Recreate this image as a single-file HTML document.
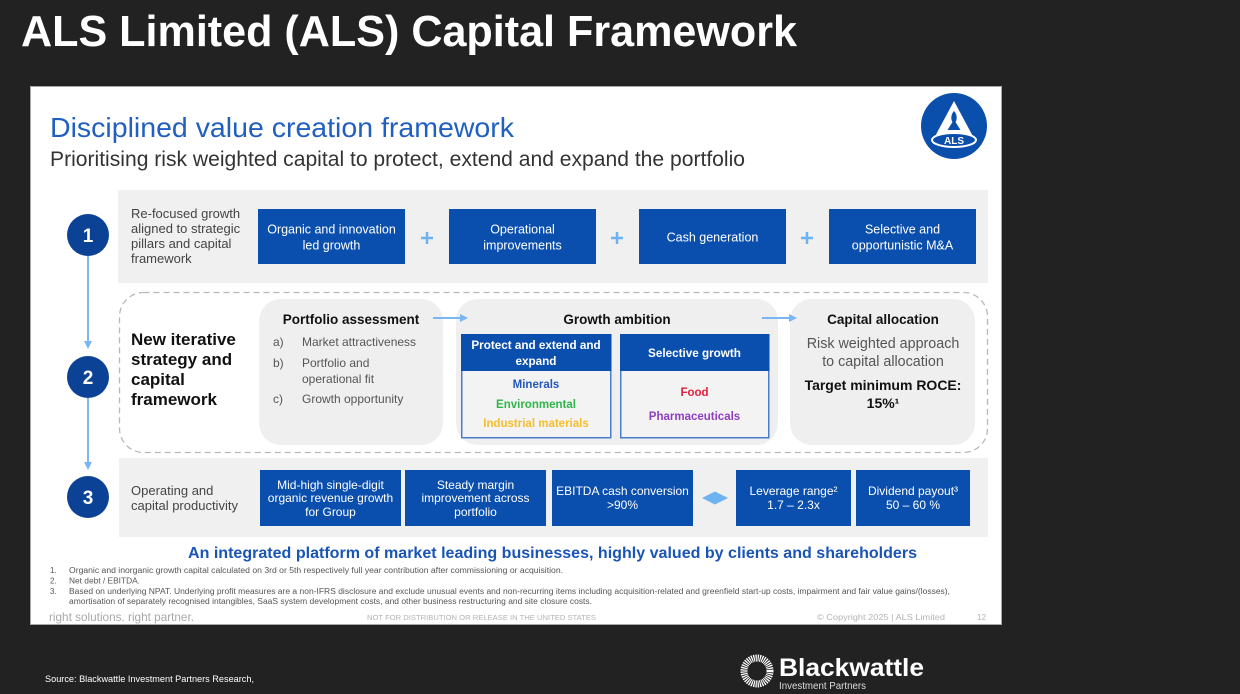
<!DOCTYPE html>
<html><head><meta charset="utf-8"><style>
html,body{margin:0;padding:0;background:#222;width:1240px;height:694px;overflow:hidden}
svg{display:block}
</style></head><body>
<svg width="1240" height="694" viewBox="0 0 1240 694" xmlns="http://www.w3.org/2000/svg" font-family="'Liberation Sans', Arial, sans-serif">
<rect width="1240" height="694" fill="#222"/>
<text x="21" y="46" font-size="44" font-weight="bold" fill="#fff" textLength="776" lengthAdjust="spacingAndGlyphs">ALS Limited (ALS) Capital Framework</text>

<!-- slide -->
<rect x="30.5" y="86.5" width="971" height="538" fill="#fff" stroke="#a8a8a8" stroke-width="1"/>
<text x="50" y="137" font-size="28" fill="#2160c0" textLength="464" lengthAdjust="spacingAndGlyphs">Disciplined value creation framework</text>
<text x="50" y="166" font-size="21" fill="#333" textLength="695" lengthAdjust="spacingAndGlyphs">Prioritising risk weighted capital to protect, extend and expand the portfolio</text>

<!-- ALS logo -->
<circle cx="954" cy="126" r="33" fill="#0b4fad"/>
<polygon points="954,101 932,142 976,142" fill="#fff"/>
<path d="M954 111 c-3 3 -3.5 8 -1.5 11 l-5 8 h13 l-5 -8 c2 -3 1.5 -8 -1.5 -11z" fill="#0b4fad"/>
<ellipse cx="954" cy="140" rx="22" ry="7" fill="#0b4fad" stroke="#fff" stroke-width="2"/>
<text x="954" y="144" font-size="10" font-weight="bold" fill="#fff" text-anchor="middle">ALS</text>

<!-- connector line -->
<line x1="88" y1="256" x2="88" y2="343" stroke="#79b6f3" stroke-width="2"/>
<polygon points="84,341 92,341 88,349" fill="#79b6f3"/>
<line x1="88" y1="398" x2="88" y2="464" stroke="#79b6f3" stroke-width="2"/>
<polygon points="84,462 92,462 88,470" fill="#79b6f3"/>

<!-- circles -->
<g fill="#0b4295">
<circle cx="88" cy="235" r="21"/>
<circle cx="88" cy="377" r="21"/>
<circle cx="88" cy="497" r="21"/>
</g>
<g fill="#fff" font-size="19" font-weight="bold" text-anchor="middle">
<text x="88" y="242">1</text>
<text x="88" y="384">2</text>
<text x="88" y="504">3</text>
</g>

<!-- Row 1 -->
<rect x="118" y="190" width="870" height="93" fill="#f0f0f0"/>
<g font-size="13" fill="#444">
<text x="131" y="218">Re-focused growth</text>
<text x="131" y="233">aligned to strategic</text>
<text x="131" y="248">pillars and capital</text>
<text x="131" y="263">framework</text>
</g>
<g fill="#0a4fad">
<rect x="258" y="209" width="147" height="55"/>
<rect x="449" y="209" width="147" height="55"/>
<rect x="639" y="209" width="147" height="55"/>
<rect x="829" y="209" width="147" height="55"/>
</g>
<g fill="#fff" font-size="12.5" text-anchor="middle">
<text x="331.5" y="233.5">Organic and innovation</text>
<text x="331.5" y="249.5">led growth</text>
<text x="522.5" y="233.5">Operational</text>
<text x="522.5" y="249.5">improvements</text>
<text x="712.5" y="241.5">Cash generation</text>
<text x="902.5" y="233.5">Selective and</text>
<text x="902.5" y="249.5">opportunistic M&amp;A</text>
</g>
<g stroke="#6db3f2" stroke-width="2.5">
<line x1="421" y1="238" x2="433" y2="238"/><line x1="427" y1="232" x2="427" y2="244"/>
<line x1="611" y1="238" x2="623" y2="238"/><line x1="617" y1="232" x2="617" y2="244"/>
<line x1="801" y1="238" x2="813" y2="238"/><line x1="807" y1="232" x2="807" y2="244"/>
</g>

<!-- Row 2 -->
<rect x="119.5" y="292.5" width="868" height="160" rx="24" fill="none" stroke="#b8b8b8" stroke-width="1.3" stroke-dasharray="6 4"/>
<g font-size="17" font-weight="bold" fill="#111">
<text x="131" y="345">New iterative</text>
<text x="131" y="365">strategy and</text>
<text x="131" y="385">capital</text>
<text x="131" y="405">framework</text>
</g>
<g fill="#efefef">
<rect x="259" y="299" width="184" height="146" rx="22"/>
<rect x="456" y="299" width="322" height="146" rx="22"/>
<rect x="790" y="299" width="185" height="146" rx="22"/>
</g>
<g font-size="13.5" font-weight="bold" fill="#111" text-anchor="middle">
<text x="351" y="324">Portfolio assessment</text>
<text x="617" y="324">Growth ambition</text>
<text x="883" y="324">Capital allocation</text>
</g>
<g font-size="12" fill="#555">
<text x="273" y="346">a)</text><text x="302" y="346">Market attractiveness</text>
<text x="273" y="367">b)</text><text x="302" y="367">Portfolio and</text>
<text x="302" y="383">operational fit</text>
<text x="273" y="403">c)</text><text x="302" y="403">Growth opportunity</text>
</g>
<!-- arrows -->
<line x1="433" y1="318" x2="462" y2="318" stroke="#79b6f3" stroke-width="2"/>
<polygon points="460,314 468,318 460,322" fill="#79b6f3"/>
<line x1="762" y1="318" x2="791" y2="318" stroke="#79b6f3" stroke-width="2"/>
<polygon points="789,314 797,318 789,322" fill="#79b6f3"/>
<!-- sub-boxes -->
<rect x="461.75" y="334.75" width="149" height="103" fill="#f3f3f3" stroke="#4a7cc9" stroke-width="1.5"/>
<rect x="461" y="334" width="150.5" height="37" fill="#0a4fad"/>
<rect x="620.75" y="334.75" width="148" height="103" fill="#f3f3f3" stroke="#4a7cc9" stroke-width="1.5"/>
<rect x="620" y="334" width="149.5" height="37" fill="#0a4fad"/>
<g font-size="11.7" font-weight="bold" fill="#fff" text-anchor="middle">
<text x="536" y="349">Protect and extend and</text>
<text x="536" y="365">expand</text>
<text x="694.5" y="357">Selective growth</text>
</g>
<g font-size="11.5" font-weight="bold" text-anchor="middle">
<text x="536" y="388" fill="#2458b8">Minerals</text>
<text x="536" y="408" fill="#2fb54a">Environmental</text>
<text x="536" y="427" fill="#f7bd2a">Industrial materials</text>
<text x="694.5" y="396" fill="#e0213f">Food</text>
<text x="694.5" y="420" fill="#8e3fbf">Pharmaceuticals</text>
</g>
<g font-size="14.3" fill="#555" text-anchor="middle">
<text x="883" y="348">Risk weighted approach</text>
<text x="883" y="366">to capital allocation</text>
</g>
<g font-size="14" font-weight="bold" fill="#111" text-anchor="middle">
<text x="883" y="390">Target minimum ROCE:</text>
<text x="883" y="408">15%¹</text>
</g>

<!-- Row 3 -->
<rect x="119" y="458" width="869" height="79" fill="#f0f0f0"/>
<g font-size="13" fill="#444">
<text x="131" y="495">Operating and</text>
<text x="131" y="510">capital productivity</text>
</g>
<g fill="#0a4fad">
<rect x="260" y="470" width="141" height="56"/>
<rect x="405" y="470" width="141" height="56"/>
<rect x="552" y="470" width="141" height="56"/>
<rect x="736" y="470" width="115" height="56"/>
<rect x="856" y="470" width="114" height="56"/>
</g>
<polygon points="702,498 715,491.5 728,498 715,504.5" fill="#6db3f2"/>
<g fill="#fff" font-size="12" text-anchor="middle">
<text x="330.5" y="489">Mid-high single-digit</text>
<text x="330.5" y="502">organic revenue growth</text>
<text x="330.5" y="516">for Group</text>
<text x="475.5" y="489">Steady margin</text>
<text x="475.5" y="502">improvement across</text>
<text x="475.5" y="516">portfolio</text>
<text x="622.5" y="495">EBITDA cash conversion</text>
<text x="622.5" y="509">&gt;90%</text>
<text x="793.5" y="495">Leverage range²</text>
<text x="793.5" y="509">1.7 – 2.3x</text>
<text x="913" y="495">Dividend payout³</text>
<text x="913" y="509">50 – 60 %</text>
</g>

<!-- tagline -->
<text x="188" y="558" font-size="16" font-weight="bold" fill="#1a55b5" textLength="729" lengthAdjust="spacingAndGlyphs">An integrated platform of market leading businesses, highly valued by clients and shareholders</text>

<!-- footnotes -->
<g font-size="8" fill="#555">
<text x="50" y="573">1.</text>
<text x="69" y="573" textLength="494" lengthAdjust="spacingAndGlyphs">Organic and inorganic growth capital calculated on 3rd or 5th respectively full year contribution after commissioning or acquisition.</text>
<text x="50" y="583.5">2.</text>
<text x="69" y="583.5" textLength="71" lengthAdjust="spacingAndGlyphs">Net debt / EBITDA.</text>
<text x="50" y="594">3.</text>
<text x="69" y="594" textLength="881" lengthAdjust="spacingAndGlyphs">Based on underlying NPAT. Underlying profit measures are a non-IFRS disclosure and exclude unusual events and non-recurring items including acquisition-related and greenfield start-up costs, impairment and fair value gains/(losses),</text>
<text x="69" y="604" textLength="523" lengthAdjust="spacingAndGlyphs">amortisation of separately recognised intangibles, SaaS system development costs, and other business restructuring and site closure costs.</text>
</g>

<!-- slide footer -->
<text x="49" y="621" font-size="12" fill="#a8a8a8" textLength="145" lengthAdjust="spacingAndGlyphs">right solutions. right partner.</text>
<text x="367" y="620" font-size="7.5" fill="#b3b3b3" textLength="229" lengthAdjust="spacingAndGlyphs">NOT FOR DISTRIBUTION OR RELEASE IN THE UNITED STATES</text>
<text x="817" y="620" font-size="8" fill="#b3b3b3" textLength="128" lengthAdjust="spacingAndGlyphs">© Copyright 2025  |  ALS Limited</text>
<text x="977" y="620" font-size="8" fill="#b3b3b3">12</text>

<!-- page footer -->
<text x="45" y="682" font-size="9.5" fill="#fff" textLength="209" lengthAdjust="spacingAndGlyphs">Source: Blackwattle Investment Partners Research,</text>
<circle cx="757" cy="671" r="13" fill="none" stroke="#fff" stroke-width="7" stroke-dasharray="1.2 0.85"/>
<text x="779" y="676" font-size="25" font-weight="bold" fill="#fff" textLength="145" lengthAdjust="spacingAndGlyphs">Blackwattle</text>
<text x="779" y="689" font-size="10.5" fill="#ddd" textLength="87" lengthAdjust="spacingAndGlyphs">Investment Partners</text>
</svg>
</body></html>
